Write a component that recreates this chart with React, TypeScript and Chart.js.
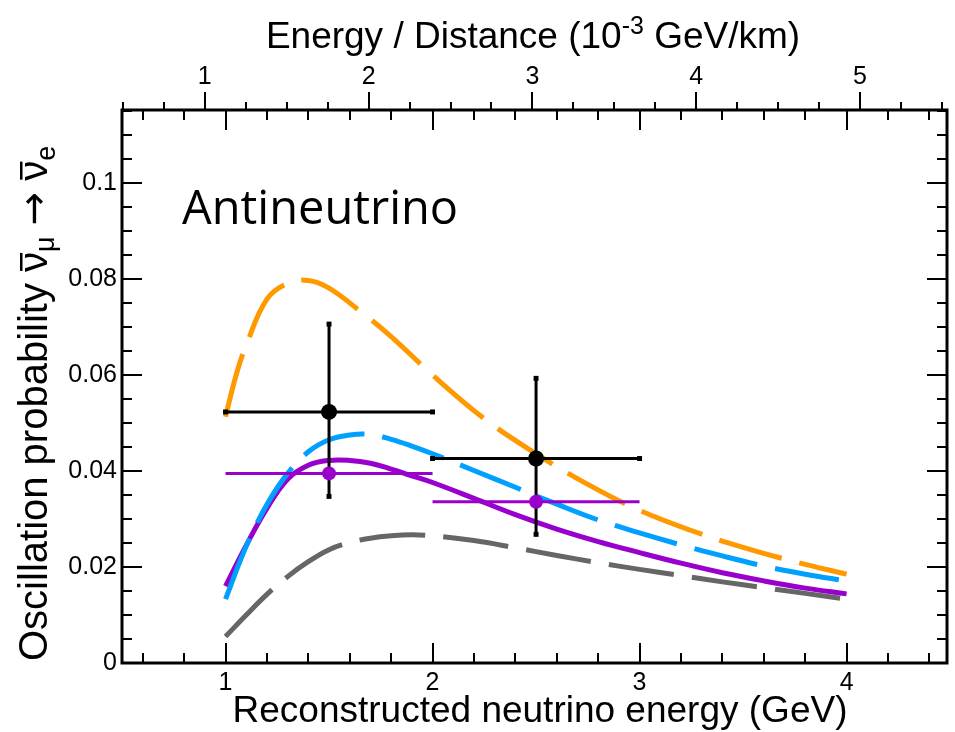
import React, { useEffect, useRef } from "react";
import { Chart, registerables } from "chart.js";

Chart.register(...registerables);

// ---------------- data ----------------
const orangeE = [1.0, 1.05, 1.1, 1.2, 1.3, 1.4, 1.5, 1.65, 1.8, 2.0, 2.25, 2.5, 2.75, 3.0, 3.25, 3.5, 3.75, 4.0];
const orangeP = [0.0513, 0.0598, 0.0662, 0.0758, 0.0791, 0.0797, 0.0781, 0.0733, 0.068, 0.06, 0.0509, 0.0436, 0.0372, 0.0318, 0.0276, 0.0241, 0.0211, 0.0185];

const blueE = [1.0, 1.1, 1.2, 1.3, 1.4, 1.5, 1.6, 1.7, 1.8, 1.9, 2.0, 2.2, 2.4, 2.6, 2.8, 3.0, 3.2, 3.4, 3.6, 3.8, 4.0];
const blueP = [0.0133, 0.0243, 0.033, 0.0395, 0.044, 0.0465, 0.0475, 0.0476, 0.0466, 0.0452, 0.0436, 0.0401, 0.0366, 0.0331, 0.0298, 0.0271, 0.0246, 0.0223, 0.0202, 0.0185, 0.0171];

const purpleE = [1.0, 1.1, 1.2, 1.3, 1.4, 1.5, 1.6, 1.7, 1.8, 1.9, 2.0, 2.2, 2.4, 2.6, 2.8, 3.0, 3.2, 3.4, 3.6, 3.8, 4.0];
const purpleP = [0.016, 0.0245, 0.0322, 0.0383, 0.0412, 0.0422, 0.0422, 0.0416, 0.0404, 0.039, 0.0376, 0.0343, 0.0309, 0.0279, 0.0253, 0.023, 0.0208, 0.0188, 0.0171, 0.0156, 0.0144];

const grayE = [1.0, 1.1, 1.2, 1.3, 1.4, 1.5, 1.6, 1.7, 1.8, 1.9, 2.0, 2.2, 2.4, 2.6, 2.8, 3.0, 3.2, 3.4, 3.6, 3.8, 4.0];
const grayP = [0.0055, 0.01, 0.0143, 0.018, 0.0211, 0.0236, 0.0251, 0.026, 0.0265, 0.0267, 0.0265, 0.0255, 0.024, 0.0224, 0.0209, 0.0195, 0.0182, 0.0169, 0.0157, 0.0145, 0.0133];

const binCenter = [1.5, 2.5];
const binLow = [1.0, 2.0];
const binHigh = [2.0, 3.0];
const dataProb = [0.0523, 0.0426];
const dataErrLow = [0.0347, 0.0268];
const dataErrHigh = [0.0706, 0.0593];
const predProb = [0.0395, 0.0336];

const bottomTicks = [1, 2, 3, 4];
const bottomTickLabels = ["1", "2", "3", "4"];
const topTicks = [1, 2, 3, 4, 5];
const topTickLabels = ["1", "2", "3", "4", "5"];
const yTicks = [0, 0.02, 0.04, 0.06, 0.08, 0.1];
const yTickLabels = ["0", "0.02", "0.04", "0.06", "0.08", "0.1"];

const X_MIN = 0.5;
const X_MAX = 4.485;
const TOP_MIN = 0.4945;
const TOP_MAX = 5.531;
const Y_MIN = 0;
const Y_MAX = 0.1152;

const ORANGE = "#FF9900";
const BLUE = "#00A0FF";
const PURPLE = "#9900CC";
const GRAY = "#666666";

const AXIS_FONT = '"Liberation Sans", Arial, sans-serif';

const pts = (E: number[], P: number[]) => E.map((e, i) => ({ x: e, y: P[i] }));

const framePlugin = {
  id: "frame",
  afterDraw(chart: any) {
    const { ctx, chartArea: a, scales } = chart;
    const sx = scales.x, sx2 = scales.x2, sy = scales.y;
    ctx.save();
    ctx.strokeStyle = "#000";
    ctx.fillStyle = "#000";
    ctx.lineCap = "butt";

    // ticks
    ctx.lineWidth = 2;
    ctx.beginPath();
    for (let i = 3; i * 0.2 <= X_MAX + 1e-9; i++) {
      const v = i * 0.2;
      const major = Math.abs(v - Math.round(v)) < 1e-6;
      const len = major ? 20 : 10;
      const px = Math.round(sx.getPixelForValue(v));
      ctx.moveTo(px, a.bottom);
      ctx.lineTo(px, a.bottom - len);
      ctx.moveTo(px, a.top);
      ctx.lineTo(px, a.top + len);
    }
    for (let i = 2; i * 0.25 <= TOP_MAX + 1e-9; i++) {
      const v = i * 0.25;
      const major = Math.abs(v - Math.round(v)) < 1e-6;
      const len = major ? 18 : 8;
      const px = Math.round(sx2.getPixelForValue(v));
      ctx.moveTo(px, a.top);
      ctx.lineTo(px, a.top - len);
    }
    for (let i = 1; i * 0.005 <= Y_MAX + 1e-9; i++) {
      const v = i * 0.005;
      const major = i % 4 === 0;
      const len = major ? 20 : 10;
      const py = Math.round(sy.getPixelForValue(v));
      ctx.moveTo(a.left, py);
      ctx.lineTo(a.left + len, py);
      ctx.moveTo(a.right, py);
      ctx.lineTo(a.right - len, py);
    }
    ctx.stroke();

    // frame
    ctx.lineWidth = 3;
    ctx.strokeRect(a.left, a.top, a.right - a.left, a.bottom - a.top);

    // tick labels
    ctx.font = `25px ${AXIS_FONT}`;
    ctx.textAlign = "center";
    ctx.textBaseline = "alphabetic";
    bottomTicks.forEach((v, i) => {
      ctx.fillText(bottomTickLabels[i], sx.getPixelForValue(v), 690);
    });
    topTicks.forEach((v, i) => {
      ctx.fillText(topTickLabels[i], sx2.getPixelForValue(v), 84);
    });
    ctx.textAlign = "right";
    ctx.textBaseline = "middle";
    yTicks.forEach((v, i) => {
      ctx.fillText(yTickLabels[i], 117, sy.getPixelForValue(v));
    });

    // bottom title
    ctx.textBaseline = "alphabetic";
    ctx.textAlign = "center";
    ctx.font = `37px ${AXIS_FONT}`;
    ctx.fillText("Reconstructed neutrino energy (GeV)", 540, 722);

    // top title with superscript
    const big = `37px ${AXIS_FONT}`;
    const small = `25px ${AXIS_FONT}`;
    const topSegs = [
      { t: "Energy / Distance (10", f: big, dy: 0 },
      { t: "-3", f: small, dy: -14 },
      { t: " GeV/km)", f: big, dy: 0 },
    ];
    let total = 0;
    topSegs.forEach((s) => {
      ctx.font = s.f;
      total += ctx.measureText(s.t).width;
    });
    ctx.textAlign = "left";
    let cx = 533 - total / 2;
    topSegs.forEach((s) => {
      ctx.font = s.f;
      ctx.fillText(s.t, cx, 48 + s.dy);
      cx += ctx.measureText(s.t).width;
    });

    // y title (rotated) with subscripts, macrons drawn over the nu glyphs
    const ybig = `40px ${AXIS_FONT}`;
    const ysmall = `27px ${AXIS_FONT}`;
    const yarrow = `40px "DejaVu Sans", sans-serif`;
    const ySegs = [
      { t: "Oscillation probability ", f: ybig, dy: 0, bar: false },
      { t: "\u03BD", f: ybig, dy: 0, bar: true },
      { t: "\u03BC", f: ysmall, dy: 7, bar: false },
      { t: " ", f: ybig, dy: 0, bar: false },
      { t: "\u2192", f: yarrow, dy: 0, bar: false },
      { t: " ", f: ybig, dy: 0, bar: false },
      { t: "\u03BD", f: ybig, dy: 0, bar: true },
      { t: "e", f: ysmall, dy: 8, bar: false },
    ];
    ctx.save();
    ctx.translate(47, 661);
    ctx.rotate(-Math.PI / 2);
    let tx = 0;
    ySegs.forEach((s) => {
      ctx.font = s.f;
      ctx.fillText(s.t, tx, s.dy);
      const w = ctx.measureText(s.t).width;
      if (s.bar) {
        ctx.fillRect(tx + 1, -27, w - 2, 2.5);
      }
      tx += w;
    });
    ctx.restore();

    // label inside plot
    ctx.font = '47px "Open Sans", sans-serif';
    ctx.textAlign = "left";
    ctx.fillText("Antineutrino", 182, 224);

    ctx.restore();
  },
};

export default function App() {
  const ref = useRef<HTMLCanvasElement | null>(null);

  useEffect(() => {
    if (!ref.current) return;
    const curveStyle = {
      showLine: true,
      pointRadius: 0,
      borderWidth: 5,
      fill: false,
      tension: 0.4,
      borderCapStyle: "butt" as const,
    };
    const datasets: any[] = [
      {
        label: "Data",
        data: pts(binCenter, dataProb),
        showLine: false,
        pointRadius: 8,
        pointBackgroundColor: "#000",
        pointBorderWidth: 0,
        order: 0,
      },
      {
        label: "Prediction points",
        data: pts(binCenter, predProb),
        showLine: false,
        pointRadius: 7,
        pointBackgroundColor: PURPLE,
        pointBorderWidth: 0,
        order: 0,
      },
    ];
    binCenter.forEach((c, i) => {
      datasets.push({
        label: `xerr${i}`,
        data: [
          { x: binLow[i], y: dataProb[i] },
          { x: binHigh[i], y: dataProb[i] },
        ],
        borderColor: "#000",
        borderWidth: 3,
        pointStyle: "rect",
        pointRadius: 3.5,
        pointBackgroundColor: "#000",
        pointBorderWidth: 0,
        tension: 0,
        order: 1,
      });
      datasets.push({
        label: `yerr${i}`,
        data: [
          { x: c, y: dataErrLow[i] },
          { x: c, y: dataErrHigh[i] },
        ],
        borderColor: "#000",
        borderWidth: 3,
        pointStyle: "rect",
        pointRadius: 3.5,
        pointBackgroundColor: "#000",
        pointBorderWidth: 0,
        tension: 0,
        order: 1,
      });
      datasets.push({
        label: `pred${i}`,
        data: [
          { x: binLow[i], y: predProb[i] },
          { x: binHigh[i], y: predProb[i] },
        ],
        borderColor: PURPLE,
        borderWidth: 3,
        pointRadius: 0,
        tension: 0,
        order: 2,
      });
    });
    datasets.push(
      { label: "blue", data: pts(blueE, blueP), borderColor: BLUE, borderDash: [65, 18], order: 3, ...curveStyle },
      { label: "purple", data: pts(purpleE, purpleP), borderColor: PURPLE, order: 4, ...curveStyle },
      { label: "orange", data: pts(orangeE, orangeP), borderColor: ORANGE, borderDash: [65, 18], order: 5, ...curveStyle },
      { label: "gray", data: pts(grayE, grayP), borderColor: GRAY, borderDash: [66, 18], order: 6, ...curveStyle }
    );

    const hidden = {
      grid: { display: false, drawTicks: false },
      border: { display: false },
      ticks: { display: false },
    };

    const chart = new Chart(ref.current, {
      type: "line",
      data: { datasets },
      options: {
        responsive: false,
        animation: false,
        devicePixelRatio: 1,
        layout: { padding: { left: 0, right: 2, top: 0, bottom: 0 } },
        plugins: { legend: { display: false }, tooltip: { enabled: false } },
        scales: {
          x: {
            type: "linear",
            position: "bottom",
            min: X_MIN,
            max: X_MAX,
            ...hidden,
            afterFit: (s: any) => {
              s.height = 69;
            },
          },
          x2: {
            type: "linear",
            position: "top",
            min: TOP_MIN,
            max: TOP_MAX,
            ...hidden,
            afterFit: (s: any) => {
              s.height = 110;
            },
          },
          y: {
            type: "linear",
            position: "left",
            min: Y_MIN,
            max: Y_MAX,
            ...hidden,
            afterFit: (s: any) => {
              s.width = 122;
            },
          },
        },
      } as any,
      plugins: [framePlugin],
    });
    return () => chart.destroy();
  }, []);

  return (
    <div style={{ position: "absolute", left: 0, top: 0, width: 955, height: 732, background: "#fff" }}>
      <canvas ref={ref} width={955} height={732} style={{ display: "block", width: 955, height: 732 }} />
    </div>
  );
}
